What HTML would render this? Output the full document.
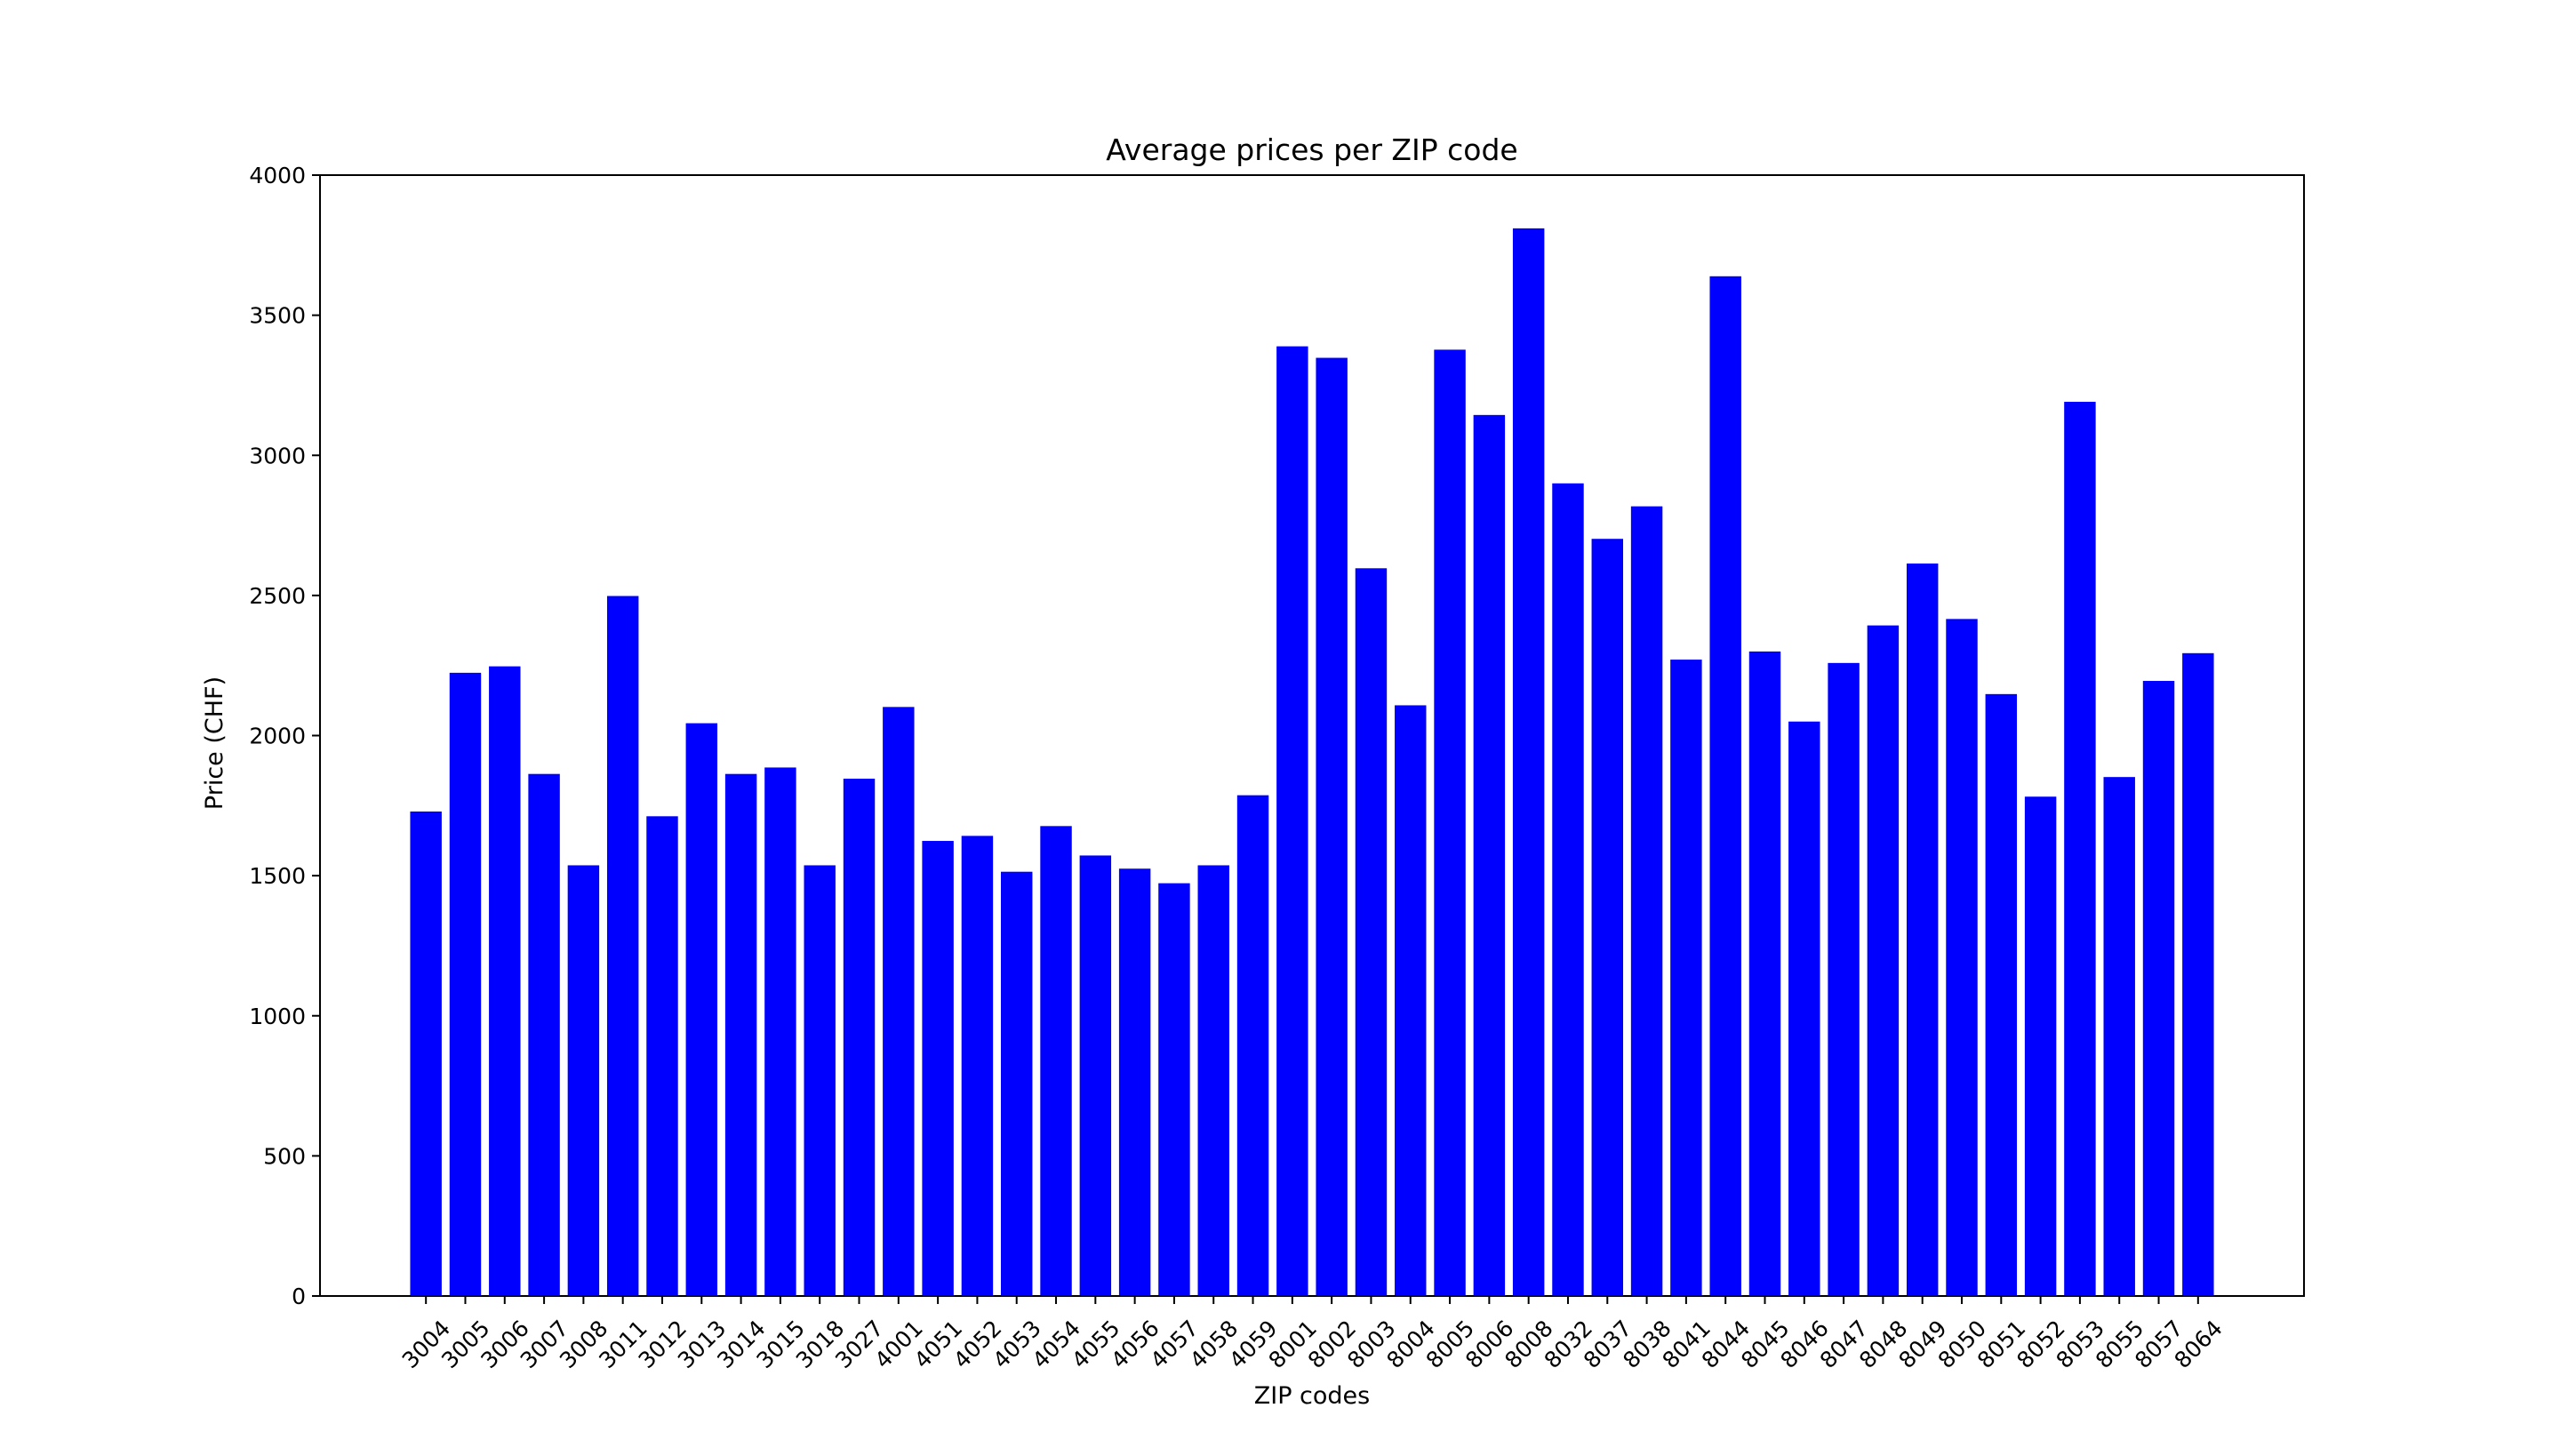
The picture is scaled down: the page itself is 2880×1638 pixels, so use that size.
<!DOCTYPE html>
<html><head><meta charset="utf-8"><style>
html,body{margin:0;padding:0;background:#fff;}
svg{display:block;font-family:"DejaVu Sans","Liberation Sans",sans-serif;}
</style></head><body>
<svg id="chart" width="2880" height="1638" viewBox="0 0 2880 1638" xmlns="http://www.w3.org/2000/svg">
<rect width="2880" height="1638" fill="#fff"/>
<text x="1476" y="180" font-size="33" text-anchor="middle">Average prices per ZIP code</text>
<text x="0" y="0" font-size="27" text-anchor="middle" transform="translate(250,836) rotate(-90)">Price (CHF)</text>
<text x="1476" y="1579" font-size="27" text-anchor="middle">ZIP codes</text>
<g id="bars"></g><g id="yticks"></g><g id="xticks"></g>
<rect x="360" y="197" width="2232" height="1261" fill="none" stroke="#000" stroke-width="2"/>
</svg>
<script>
const categories = ["3004","3005","3006","3007","3008","3011","3012","3013","3014","3015","3018","3027","4001","4051","4052","4053","4054","4055","4056","4057","4058","4059","8001","8002","8003","8004","8005","8006","8008","8032","8037","8038","8041","8044","8045","8046","8047","8048","8049","8050","8051","8052","8053","8055","8057","8064"];
const prices = [1729,2224,2247,1863,1537,2498,1712,2044,1863,1886,1537,1846,2102,1624,1642,1514,1677,1572,1525,1473,1537,1787,3389,3348,2597,2108,3377,3144,3810,2900,2702,2818,2271,3639,2300,2050,2259,2393,2614,2416,2148,1782,3191,1852,2195,2294];
const yTicks = [0,500,1000,1500,2000,2500,3000,3500,4000];

const NS="http://www.w3.org/2000/svg";
const L=360,R=2592,T=197,B=1458;
const n=categories.length;
const xmin=-0.4-0.05*(n-1+0.8), xmax=n-1+0.4+0.05*(n-1+0.8);
function xs(v){return L+(v-xmin)/(xmax-xmin)*(R-L);}
function ys(v){return B-(v/4000)*(B-T);}
function mk(tag,attrs){const e=document.createElementNS(NS,tag);for(const k in attrs)e.setAttribute(k,attrs[k]);return e;}
const gb=document.getElementById('bars'),gy=document.getElementById('yticks'),gx=document.getElementById('xticks');
prices.forEach((p,i)=>{
  const x0=xs(i-0.4),x1=xs(i+0.4);
  const r=mk('rect',{x:x0,y:ys(p),width:x1-x0,height:B-ys(p),fill:'#0000ff'});
  
  
  gb.appendChild(r);
});
yTicks.forEach(t=>{
  const y=ys(t);
  const ln=mk('line',{x1:L-9,x2:L,y1:y,y2:y,stroke:'#000','stroke-width':2});
  
  
  gy.appendChild(ln);
  const tx=mk('text',{x:L-16,y:y+9,'font-size':25,'text-anchor':'end'});
  tx.textContent=t;
  
  
  gy.appendChild(tx);
});
categories.forEach((c,i)=>{
  const x=xs(i);
  const ln=mk('line',{x1:x,x2:x,y1:B,y2:B+9,stroke:'#000','stroke-width':2});
  
  
  gx.appendChild(ln);
  const tx=mk('text',{x:0,y:9,'font-size':25,'text-anchor':'middle',transform:`translate(${x},${1512}) rotate(-45)`});
  tx.textContent=c;
  
  
  gx.appendChild(tx);
});
</script>
</body></html>
